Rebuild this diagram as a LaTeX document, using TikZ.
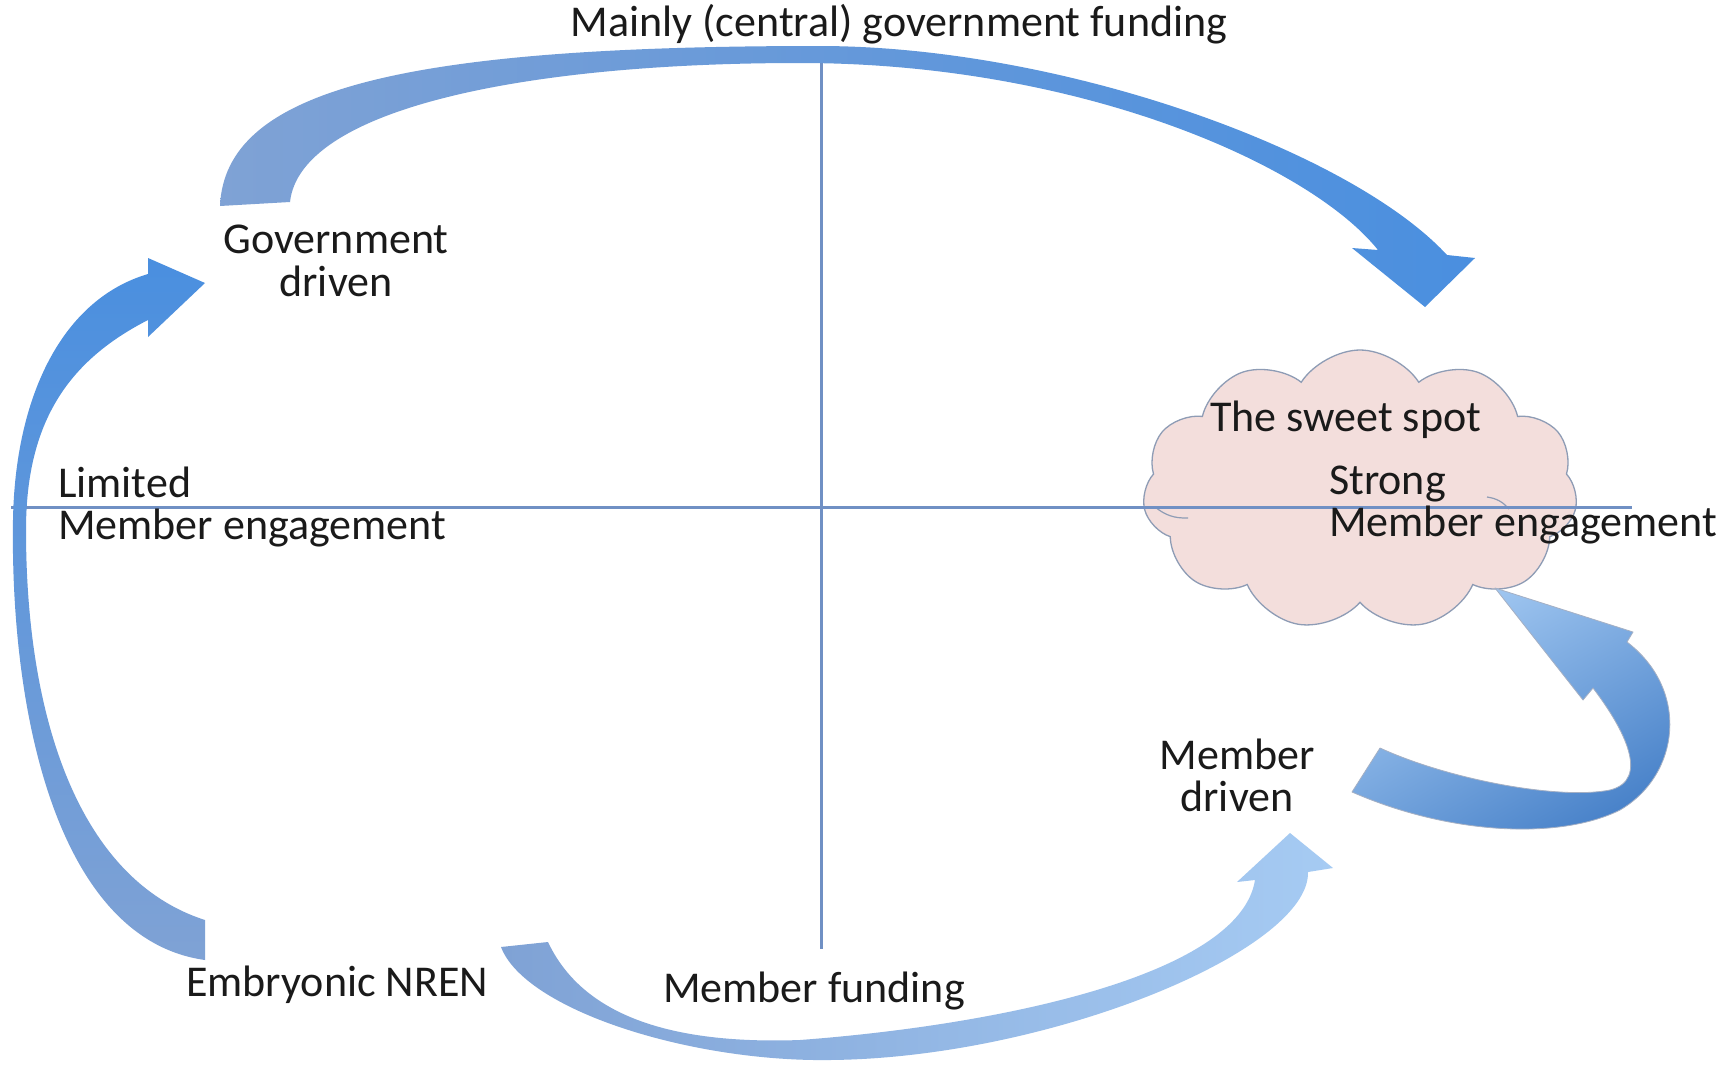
\documentclass[tikz,border=0pt]{standalone}
\usepackage{fontspec}
\setmainfont{Carlito}
\usetikzlibrary{shapes.symbols}
\definecolor{axisblue}{HTML}{7090C4}
\definecolor{cloudfill}{HTML}{F3DEDC}
\definecolor{cloudedge}{HTML}{8E9CB5}
\definecolor{muted}{HTML}{7FA2D5}
\definecolor{bright}{HTML}{4A8FDF}
\definecolor{mid}{HTML}{5F96D8}
\definecolor{light}{HTML}{A6CBF3}
\definecolor{dark}{HTML}{4680C8}
\definecolor{txt}{HTML}{1A1A1A}
\begin{document}
\begin{tikzpicture}[x=1pt,y=-1pt,
  lbl/.style={font=\fontsize{44}{44}\selectfont, inner sep=0pt, text=txt},
  axisline/.style={draw=axisblue, line width=3pt},
  blockarrow/.style={line join=round},
  sweetcloud/.style={cloud, cloud puffs=11, cloud puff arc=115, aspect=1.55,
     draw=cloudedge, fill=cloudfill, line width=1.3pt,
     minimum width=435pt, minimum height=280pt, inner sep=0pt}]
\fill[white] (0,0) rectangle (1735,1066);
\useasboundingbox (0,0) rectangle (1735,1066);

% cloud
\node[sweetcloud] (cloud) at (1360,490) {};
\draw[cloudedge, line width=1.2pt] (1155,507) to[bend right=20] (1188,518);
\draw[cloudedge, line width=1.2pt] (1487,497) to[bend left=20] (1509,509);

% axes
\coordinate (vtop) at (821,50);
\coordinate (vbot) at (821,949);
\coordinate (hl) at (11,507);
\coordinate (hr) at (1632,507);
\draw[axisline] (vtop) -- (vbot);
\draw[axisline] (hl) -- (hr);

% top arrow: government funding
\path[blockarrow, left color=muted, right color=bright]
  (220,206) .. controls (225,90) and (400,46) .. (819,46)
  .. controls (1060,46) and (1350,150) .. (1447,255)
  -- (1475,258) -- (1425,307) -- (1352,248) -- (1378,250)
  .. controls (1310,165) and (1080,63) .. (800,63)
  .. controls (520,63) and (300,110) .. (290,202) -- cycle;

% left arrow: embryonic -> government driven
\path[blockarrow, bottom color=muted, top color=bright]
  (205,960) .. controls (60,940) and (10,720) .. (13,520)
  .. controls (15,400) and (60,300) .. (148,274)
  -- (148,258) -- (205,283) -- (148,337) -- (148,320)
  .. controls (70,360) and (26,420) .. (26,530)
  .. controls (26,720) and (80,880) .. (205,920) -- cycle;

% bottom arrow: member funding
\path[blockarrow, left color=muted, middle color=mid, right color=light]
  (501,947) .. controls (525,1010) and (690,1062) .. (830,1060)
  .. controls (1050,1058) and (1310,950) .. (1308,872)
  -- (1333,868) -- (1290,833) -- (1237,882) -- (1255,880)
  .. controls (1240,975) and (1000,1025) .. (800,1040)
  .. controls (660,1045) and (580,1010) .. (548,942) -- cycle;

% right arrow: member driven -> sweet spot
\path[blockarrow, draw=cloudedge!80, line width=0.8pt, top color=light, bottom color=dark, shading angle=30]
  (1352,792) .. controls (1450,835) and (1560,840) .. (1620,810)
  .. controls (1680,775) and (1690,690) .. (1627,642)
  -- (1633,632) -- (1495,588) -- (1583,700) -- (1593,688)
  .. controls (1625,730) and (1650,780) .. (1610,790)
  .. controls (1560,800) and (1450,780) .. (1380,748) -- cycle;

% labels
\node[lbl, anchor=base] (title) at (899,36) {Mainly (central) government funding};
\node[lbl, anchor=base] (gov1) at (336,253) {Government};
\node[lbl, anchor=base] (gov2) at (336,296) {driven};
\node[lbl, anchor=base west] (lim1) at (58,497) {Limited};
\node[lbl, anchor=base west] (lim2) at (58,539) {Member engagement};
\node[lbl, anchor=base west] (sweet) at (1210,431) {The sweet spot};
\node[lbl, anchor=base west] (str1) at (1329,494) {Strong};
\node[lbl, anchor=base west] (str2) at (1329,536) {Member engagement};
\node[lbl, anchor=base] (mem1) at (1237,769) {Member};
\node[lbl, anchor=base] (mem2) at (1237,811) {driven};
\node[lbl, anchor=base] (emb) at (337,996) {Embryonic NREN};
\node[lbl, anchor=base] (mf) at (814,1002) {Member funding};
\end{tikzpicture}
\end{document}
